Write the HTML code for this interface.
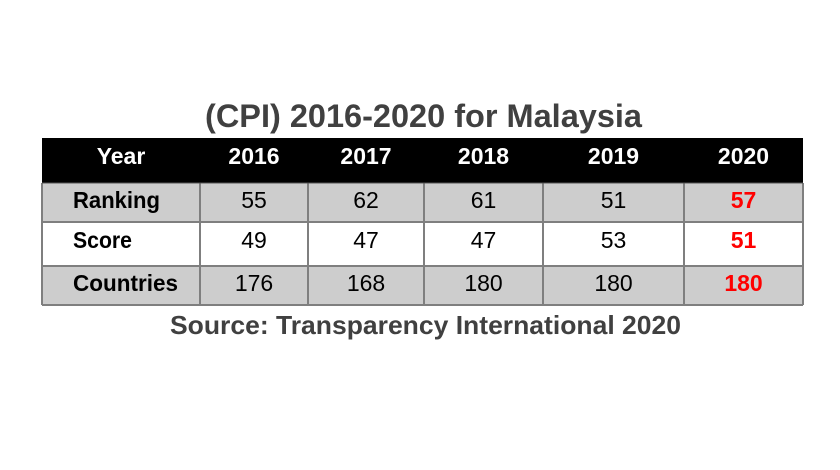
<!DOCTYPE html>
<html>
<head>
<meta charset="utf-8">
<style>
  html, body { margin: 0; padding: 0; background: #ffffff; }
  body { width: 840px; height: 470px; overflow: hidden; }
  svg { display: block; }
  text { font-family: "Liberation Sans", "DejaVu Sans", sans-serif; }
</style>
</head>
<body>
<svg width="840" height="470" viewBox="0 0 840 470" xmlns="http://www.w3.org/2000/svg">
  <rect x="0" y="0" width="840" height="470" fill="#ffffff"/>

  <!-- Title -->
  <text x="205" y="127" font-size="32" font-weight="bold" fill="#404040" textLength="437" lengthAdjust="spacingAndGlyphs">(CPI) 2016-2020 for Malaysia</text>

  <!-- Header row -->
  <rect x="42" y="138" width="761" height="45" fill="#000000"/>

  <!-- Body rows -->
  <rect x="42" y="183" width="761" height="39" fill="#cdcdcd"/>
  <rect x="42" y="222" width="761" height="44" fill="#ffffff"/>
  <rect x="42" y="266" width="761" height="39" fill="#cdcdcd"/>

  <!-- Grid lines -->
  <g stroke="#7f7f7f" stroke-width="2" fill="none">
    <line x1="42" y1="222" x2="803" y2="222"/>
    <line x1="42" y1="266" x2="803" y2="266"/>
    <line x1="42" y1="305" x2="803" y2="305"/>
    <line x1="42" y1="183" x2="42" y2="305"/>
    <line x1="803" y1="183" x2="803" y2="305"/>
    <line x1="200" y1="183" x2="200" y2="305"/>
    <line x1="308" y1="183" x2="308" y2="305"/>
    <line x1="424" y1="183" x2="424" y2="305"/>
    <line x1="543" y1="183" x2="543" y2="305"/>
    <line x1="684" y1="183" x2="684" y2="305"/>
  </g>
  <line x1="42" y1="183" x2="803" y2="183" stroke="#555555" stroke-width="1"/>

  <!-- Header text -->
  <g font-size="23" font-weight="bold" fill="#ffffff" text-anchor="middle">
    <text x="121" y="164">Year</text>
    <text x="254" y="164">2016</text>
    <text x="366" y="164">2017</text>
    <text x="483.5" y="164">2018</text>
    <text x="613.5" y="164">2019</text>
    <text x="743.5" y="164">2020</text>
  </g>

  <!-- Row labels -->
  <g font-size="23" font-weight="bold" fill="#000000">
    <text x="73" y="208" textLength="87" lengthAdjust="spacingAndGlyphs">Ranking</text>
    <text x="73" y="248" textLength="59" lengthAdjust="spacingAndGlyphs">Score</text>
    <text x="73" y="291" textLength="105" lengthAdjust="spacingAndGlyphs">Countries</text>
  </g>

  <!-- Data values -->
  <g font-size="23" fill="#000000" text-anchor="middle">
    <text x="254" y="208">55</text>
    <text x="366" y="208">62</text>
    <text x="483.5" y="208">61</text>
    <text x="613.5" y="208">51</text>

    <text x="254" y="248">49</text>
    <text x="366" y="248">47</text>
    <text x="483.5" y="248">47</text>
    <text x="613.5" y="248">53</text>

    <text x="254" y="291">176</text>
    <text x="366" y="291">168</text>
    <text x="483.5" y="291">180</text>
    <text x="613.5" y="291">180</text>
  </g>

  <!-- 2020 column (red, bold) -->
  <g font-size="23" font-weight="bold" fill="#ff0000" text-anchor="middle">
    <text x="743.5" y="208">57</text>
    <text x="743.5" y="248">51</text>
    <text x="743.5" y="291">180</text>
  </g>

  <!-- Source -->
  <text x="170" y="334" font-size="26" font-weight="bold" fill="#404040" textLength="511" lengthAdjust="spacingAndGlyphs">Source: Transparency International 2020</text>
</svg>
</body>
</html>
